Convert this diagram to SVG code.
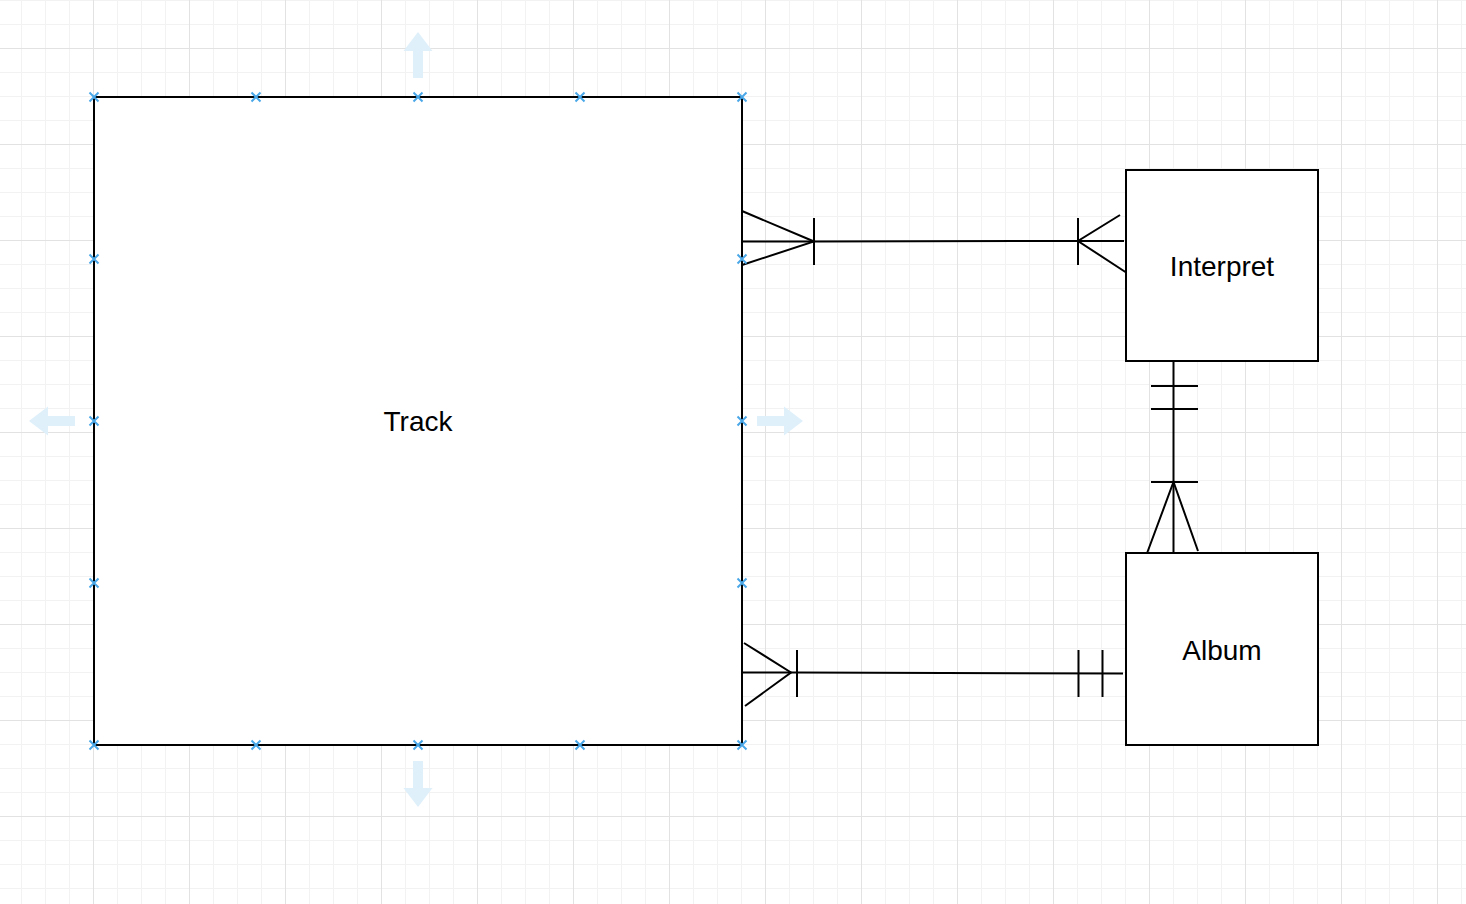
<svg xmlns="http://www.w3.org/2000/svg" width="1466" height="904" viewBox="0 0 1466 904">
<style>
.box{fill:#ffffff;stroke:#000000;stroke-width:2}
.lbl{font-family:"Liberation Sans",Arial,sans-serif;font-size:28px;fill:#000000;text-anchor:middle}
.edge{fill:none;stroke:#000000;stroke-width:2}
.hx{stroke:#4aa8e8;stroke-width:2;fill:none}
.hint{fill:#dff0fb}
</style>
<defs>
<pattern id="grid" x="93" y="48" width="96" height="96" patternUnits="userSpaceOnUse">
<path d="M24.5 0V96M48.5 0V96M72.5 0V96M0 24.5H96M0 48.5H96M0 72.5H96" stroke="#f2f2f2" stroke-width="1" fill="none"/>
<path d="M0.5 0V96M0 0.5H96" stroke="#e2e2e2" stroke-width="1" fill="none"/>
</pattern>
<path id="xm" d="M-4.5 -4.5L4.5 4.5M-4.5 4.5L4.5 -4.5"/>
<path id="harrow" d="M-5 0V-27H-14.5L0 -46L14.5 -27H5V0Z"/>
</defs>
<rect width="1466" height="904" fill="#ffffff"/>
<rect width="1466" height="904" fill="url(#grid)"/>

<g id="connectors">
<g id="track-interpret">
<path class="edge" d="M742 241.5H814L1078 241H1124"/>
<path class="edge" d="M742 211L814 241.5L742 265"/>
<path class="edge" d="M814 218V265"/>
<path class="edge" d="M1078 218V265"/>
<path class="edge" d="M1120 215L1078 241L1130 275"/>
</g>
<g id="interpret-album">
<path class="edge" d="M1173.5 361V553"/>
<path class="edge" d="M1151 386H1198M1151 409H1198M1151 482H1198"/>
<path class="edge" d="M1146 556L1173.5 482L1198 551"/>
</g>
<g id="track-album">
<path class="edge" d="M742 672.5H797L1123 673.5"/>
<path class="edge" d="M744 643L791 672.5L745 706"/>
<path class="edge" d="M797 650V697"/>
<path class="edge" d="M1078.5 650V697M1102.5 650V697"/>
</g>
</g>

<g id="track">
<rect class="box" x="94" y="97" width="648" height="648"/>
<text class="lbl" x="418" y="431">Track</text>
</g>
<g id="interpret">
<rect class="box" x="1126" y="170" width="192" height="191"/>
<text class="lbl" x="1222" y="276">Interpret</text>
</g>
<g id="album">
<rect class="box" x="1126" y="553" width="192" height="192"/>
<text class="lbl" x="1222" y="660">Album</text>
</g>

<g id="selection-handles" class="hx">
<use href="#xm" x="94" y="97"/><use href="#xm" x="256" y="97"/><use href="#xm" x="418" y="97"/><use href="#xm" x="580" y="97"/><use href="#xm" x="742" y="97"/>
<use href="#xm" x="94" y="745"/><use href="#xm" x="256" y="745"/><use href="#xm" x="418" y="745"/><use href="#xm" x="580" y="745"/><use href="#xm" x="742" y="745"/>
<use href="#xm" x="94" y="259"/><use href="#xm" x="94" y="421"/><use href="#xm" x="94" y="583"/>
<use href="#xm" x="742" y="259"/><use href="#xm" x="742" y="421"/><use href="#xm" x="742" y="583"/>
</g>
<g id="hover-arrows" class="hint">
<use href="#harrow" transform="translate(418 78)"/>
<use href="#harrow" transform="translate(418 761) rotate(180)"/>
<use href="#harrow" transform="translate(75 421) rotate(-90)"/>
<use href="#harrow" transform="translate(757 421) rotate(90)"/>
</g>
</svg>
